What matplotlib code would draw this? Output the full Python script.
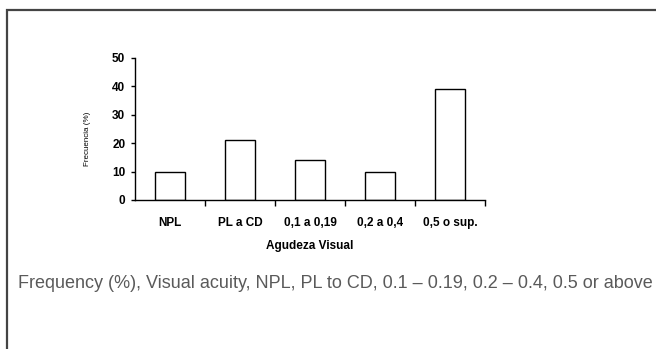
import numpy as np
import matplotlib.pyplot as plt
from matplotlib.patches import Rectangle

categories = ['NPL', 'PL a CD', '0,1 a 0,19', '0,2 a 0,4', '0,5 o sup.']
values = [10, 21, 14, 10, 39]
yticks = [0, 10, 20, 30, 40, 50]
caption = 'Frequency (%), Visual acuity, NPL, PL to CD, 0.1 \u2013 0.19, 0.2 \u2013 0.4, 0.5 or above'

plt.rcParams['font.family'] = ['Liberation Sans', 'DejaVu Sans']

fig = plt.figure(figsize=(6.56, 3.49), dpi=100)

# outer frame, runs off the right and bottom edges
fig.patches.append(Rectangle((7/656, -0.1), 1.2, 1 - 10/349 + 0.1,
                             transform=fig.transFigure, fill=False,
                             edgecolor='#444444', linewidth=1.6))

ax = fig.add_axes([135/656, 1 - 200/349, 350/656, 142/349])
x = np.arange(len(categories))
ax.bar(x, values, width=0.42, color='white', edgecolor='black', linewidth=1.0)

ax.set_xlim(-0.5, 4.5)
ax.set_ylim(0, 50)
ax.set_yticks(yticks)
ax.set_xticks(x + 0.5)
ax.set_xticklabels([])
ax.set_xticks(x, minor=True)
ax.set_xticklabels(categories, minor=True, fontsize=8.5, fontweight='bold')
ax.tick_params(axis='x', which='minor', length=0, pad=12)
ax.tick_params(axis='x', which='major', length=4, width=1, direction='out')
ax.tick_params(axis='y', length=3, width=1, direction='out', labelsize=8.5, pad=4)
for lab in ax.get_yticklabels():
    lab.set_fontweight('bold')

for s in ['top', 'right']:
    ax.spines[s].set_visible(False)
for s in ['left', 'bottom']:
    ax.spines[s].set_linewidth(1.0)

ax.set_xlabel('Agudeza Visual', fontsize=8.5, fontweight='bold')
ax.xaxis.set_label_coords(0.5, -0.28)
ax.set_ylabel('Frecuencia (%)', fontsize=5.8)
ax.yaxis.set_label_coords(-0.125, 0.43)

fig.text(18/656, 1 - 283/349, caption, fontsize=13, color='#5a5a5a',
         va='center', ha='left')

fig.savefig('out.png', dpi=100)
